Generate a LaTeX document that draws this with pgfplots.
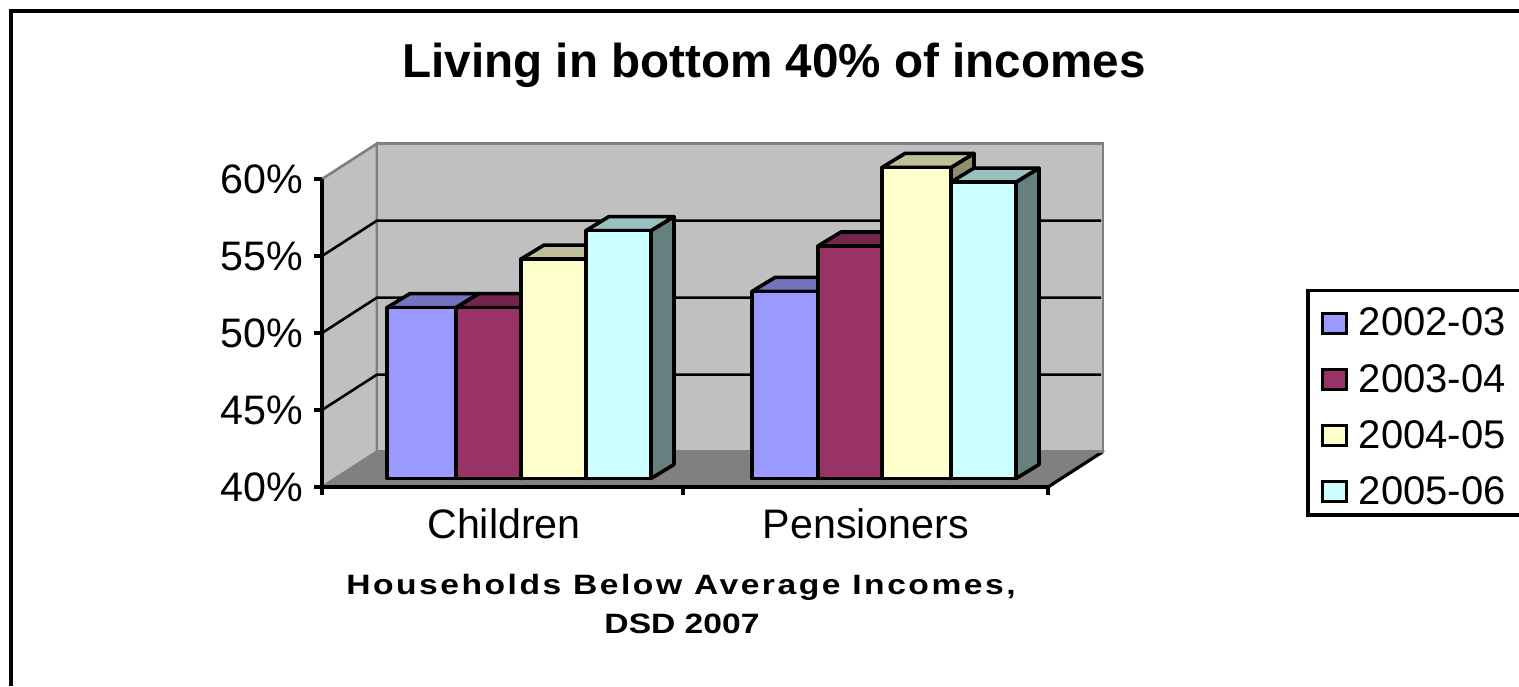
\documentclass[border=0pt]{standalone}
\usepackage{pgfplots}
\usepackage{fontspec}
\setmainfont{Liberation Sans}
\newfontfamily\footA[FakeStretch=1.2,LetterSpace=9]{Liberation Sans}
\newfontfamily\footB[FakeStretch=1.2]{Liberation Sans}
\pgfplotsset{compat=1.18}
\definecolor{cA}{HTML}{9999FF}\definecolor{cAt}{HTML}{7373BF}\definecolor{cAs}{HTML}{4D4D80}
\definecolor{cB}{HTML}{993366}\definecolor{cBt}{HTML}{73264D}\definecolor{cBs}{HTML}{4D1A33}
\definecolor{cC}{HTML}{FFFFCC}\definecolor{cCt}{HTML}{BFBF99}\definecolor{cCs}{HTML}{8F8F70}
\definecolor{cD}{HTML}{CCFFFF}\definecolor{cDt}{HTML}{99BFBF}\definecolor{cDs}{HTML}{668080}
\definecolor{wall}{HTML}{C0C0C0}\definecolor{flr}{HTML}{808080}
% x0, x1, value, series colour name
\newcommand{\threedbar}[4]{%
  \addplot[fill=#4s,draw=black,line width=1.8pt,line join=round,forget plot] coordinates {(#2,40.55) (#2+23,41.46) (#2+23,{#3+1.46}) (#2,{#3+0.55})} --cycle;
  \addplot[fill=#4t,draw=black,line width=1.8pt,line join=round,forget plot] coordinates {(#1,{#3+0.55}) (#1+23,{#3+1.46}) (#2+23,{#3+1.46}) (#2,{#3+0.55})} --cycle;
  \addplot[fill=#4,draw=black,line width=1.8pt,line join=round,forget plot] coordinates {(#1,40.55) (#1,{#3+0.55}) (#2,{#3+0.55}) (#2,40.55)} --cycle;
}
\begin{document}
\begin{tikzpicture}[x=0.5pt,y=0.5pt]
\path[use as bounding box] (0,0) rectangle (1519,686);
\draw[line width=2pt] (10.5,0)--(10.5,674.5)--(1519,674.5);
\draw[line width=1.8pt,fill=white] (1308,395.5) rectangle (1530,171);
\begin{axis}[
  at={(161pt,99.5pt)}, anchor=south west,
  scale only axis, width=363pt, height=154pt,
  xmin=322, xmax=1048, ymin=40, ymax=60,
  clip=false,
  axis on top,
  axis x line*=bottom, axis y line*=left,
  axis line style={-,line width=1.7pt,black},
  tick style={line width=1.7pt,black},
  tick align=outside, major tick length=4pt,
  xtick={322,683,1048}, xticklabels={},
  extra x ticks={504,866},
  extra x tick labels={Children,Pensioners},
  extra x tick style={major tick length=0pt, tick style={draw=none}},
  ytick={40,45,50,55,60},
  yticklabel={\pgfmathprintnumber{\tick}\%},
  /pgf/number format/assume math mode=true,
  tick label style={font=\fontsize{20.6}{24}\selectfont},
  xticklabel style={yshift=-7.5pt},
  yticklabel style={xshift=-2pt},
  legend style={at={(axis cs:1307,52.3)},anchor=north west,
    draw=none,fill=none,
    font=\fontsize{20}{24}\selectfont,
    inner xsep=7pt,inner ysep=3pt,
    row sep=8.6pt,
    cells={anchor=west}},
  legend cell align=left,
  legend image code/.code={\path[draw=none,fill=none] (0pt,0pt)--(16pt,0pt);\draw[#1,draw=black,line width=1.5pt] (0pt,-5pt) rectangle (12pt,5pt);},
]
% floor and walls
\addplot[fill=flr,draw=flr,line width=0.8pt,forget plot] coordinates {(322,40) (377,42.3) (1103,42.3) (1048,40)} --cycle;
\addplot[black,line width=1.6pt,forget plot] coordinates {(1048,40) (1103,42.3)};
\addplot[fill=wall,draw=flr,line width=1.3pt,forget plot] coordinates {(322,40) (377,42.3) (377,62.3) (322,60)} --cycle;
\addplot[fill=wall,draw=flr,line width=1.3pt,forget plot] coordinates {(377,42.3) (377,62.3) (1103,62.3) (1103,42.3)} --cycle;
% gridlines
\addplot[black,line width=1.3pt,forget plot] coordinates {(322,45) (377,47.3) (1101,47.3)};
\addplot[black,line width=1.3pt,forget plot] coordinates {(322,50) (377,52.3) (1101,52.3)};
\addplot[black,line width=1.3pt,forget plot] coordinates {(322,55) (377,57.3) (1101,57.3)};
% bars
\threedbar{387}{456}{51.1}{cA}
\threedbar{456}{521}{51.1}{cB}
\threedbar{521}{586}{54.25}{cC}
\threedbar{586}{651}{56.1}{cD}
\threedbar{752}{818}{52.15}{cA}
\threedbar{818}{882}{55.1}{cB}
\threedbar{882}{951}{60.2}{cC}
\threedbar{951}{1016}{59.25}{cD}
\addlegendimage{fill=cA}\addlegendentry{2002-03}
\addlegendimage{fill=cB}\addlegendentry{2003-04}
\addlegendimage{fill=cC}\addlegendentry{2004-05}
\addlegendimage{fill=cD}\addlegendentry{2005-06}
\end{axis}
\node[font=\fontsize{23.8}{28}\selectfont\bfseries] at (774,621) {Living in bottom 40\% of incomes};
\node[font=\fontsize{14}{18}\selectfont\footA\bfseries] at (681,99) {Households Below Average Incomes,};
\node[font=\fontsize{14}{18}\selectfont\footB\bfseries] at (682,62) {DSD 2007};
\end{tikzpicture}
\end{document}
